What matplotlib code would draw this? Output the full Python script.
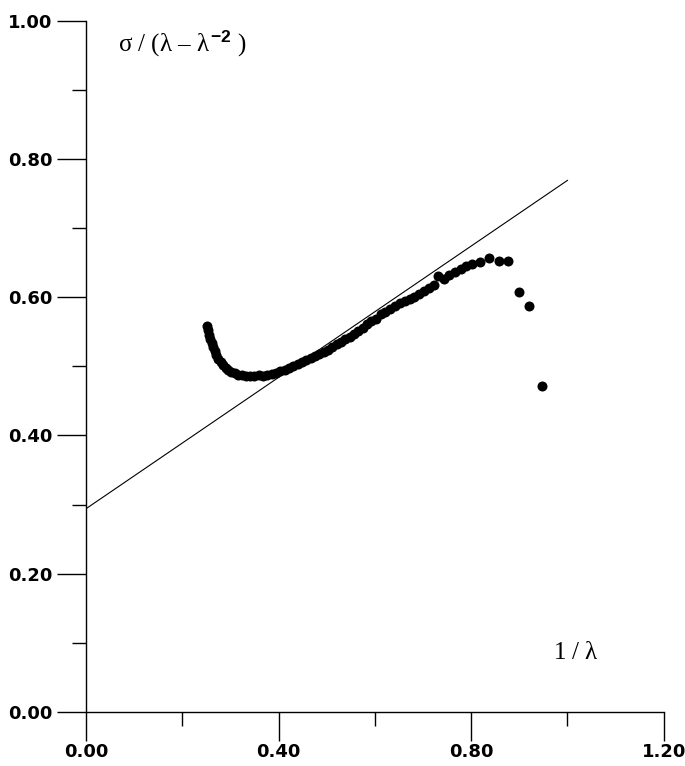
import matplotlib.pyplot as plt
from matplotlib.ticker import MultipleLocator

plt.rcParams['mathtext.fontset'] = 'custom'
plt.rcParams['mathtext.rm'] = 'Liberation Serif'
plt.rcParams['mathtext.it'] = 'Liberation Serif'
plt.rcParams['mathtext.bf'] = 'Liberation Sans:bold'

# Measured points: reduced stress vs. inverse extension ratio
inv_lambda = [0.252, 0.254, 0.256, 0.258, 0.261, 0.264, 0.267, 0.271, 0.275, 0.280,
              0.285, 0.290, 0.296, 0.302, 0.309, 0.316, 0.324, 0.332, 0.341, 0.350,
              0.359, 0.368, 0.377, 0.386, 0.395, 0.404, 0.413, 0.422, 0.431, 0.440,
              0.449, 0.458, 0.467, 0.476, 0.485, 0.494, 0.503, 0.512, 0.521, 0.530,
              0.539, 0.548, 0.557, 0.566, 0.575, 0.584, 0.593, 0.602, 0.612, 0.622,
              0.632, 0.642, 0.652, 0.662, 0.672, 0.682, 0.692, 0.702, 0.712, 0.722,
              0.732, 0.744, 0.755, 0.766, 0.778, 0.790, 0.802, 0.818, 0.838, 0.858,
              0.877, 0.900, 0.921, 0.948]
reduced_stress = [0.558, 0.552, 0.546, 0.540, 0.534, 0.528, 0.522, 0.516, 0.511, 0.506,
                  0.502, 0.498, 0.495, 0.492, 0.490, 0.488, 0.487, 0.486, 0.486, 0.486,
                  0.487, 0.486, 0.488, 0.489, 0.491, 0.493, 0.495, 0.498, 0.501, 0.503,
                  0.506, 0.509, 0.512, 0.515, 0.518, 0.521, 0.524, 0.528, 0.532, 0.535,
                  0.539, 0.543, 0.547, 0.551, 0.556, 0.561, 0.565, 0.569, 0.575, 0.579,
                  0.583, 0.587, 0.591, 0.595, 0.598, 0.601, 0.605, 0.609, 0.613, 0.618,
                  0.631, 0.626, 0.632, 0.637, 0.641, 0.645, 0.648, 0.651, 0.656, 0.652,
                  0.652, 0.607, 0.587, 0.471]

# Mooney-Rivlin fit line: 2C1 + 2C2 / lambda
fit_x = [0.0, 1.0]
fit_intercept = 0.294
fit_slope = 0.475

fig = plt.figure(figsize=(6.85, 7.66), dpi=100)
ax = fig.add_axes([0.1255, 0.0705, 0.8435, 0.9025])

ax.plot(fit_x, [fit_intercept + fit_slope * x for x in fit_x],
        color='black', linewidth=0.8)
ax.plot(inv_lambda, reduced_stress, 'o', color='black', markersize=7.2,
        markeredgewidth=0)

ax.set_xlim(0, 1.2)
ax.set_ylim(0, 1.0)
ax.xaxis.set_major_locator(MultipleLocator(0.4))
ax.xaxis.set_minor_locator(MultipleLocator(0.2))
ax.yaxis.set_major_locator(MultipleLocator(0.2))
ax.yaxis.set_minor_locator(MultipleLocator(0.1))
ax.xaxis.set_major_formatter(lambda v, p: f'{v:.2f}')
ax.yaxis.set_major_formatter(lambda v, p: f'{v:.2f}')

for side in ('top', 'right'):
    ax.spines[side].set_visible(False)
for side in ('left', 'bottom'):
    ax.spines[side].set_linewidth(1.0)

ax.tick_params(which='major', direction='out', length=21, width=1.0)
ax.tick_params(which='minor', direction='out', length=10, width=1.0)
ax.tick_params(axis='x', which='major', pad=1)
ax.tick_params(axis='y', which='major', pad=3)
for lab in ax.get_xticklabels() + ax.get_yticklabels():
    lab.set_family('DejaVu Sans')
    lab.set_fontweight('heavy')
    lab.set_fontsize(13)

ax.text(0.055, 0.968, r'$\sigma$ / ($\lambda$ – $\lambda^{\mathbf{-2}}$ )',
        transform=ax.transAxes, family='Liberation Serif', fontsize=18,
        ha='left', va='center')
ax.text(0.848, 0.085, r'1 / $\lambda$', transform=ax.transAxes,
        family='Liberation Serif', fontsize=18, ha='center', va='center')

fig.savefig('out.png', dpi=100)
